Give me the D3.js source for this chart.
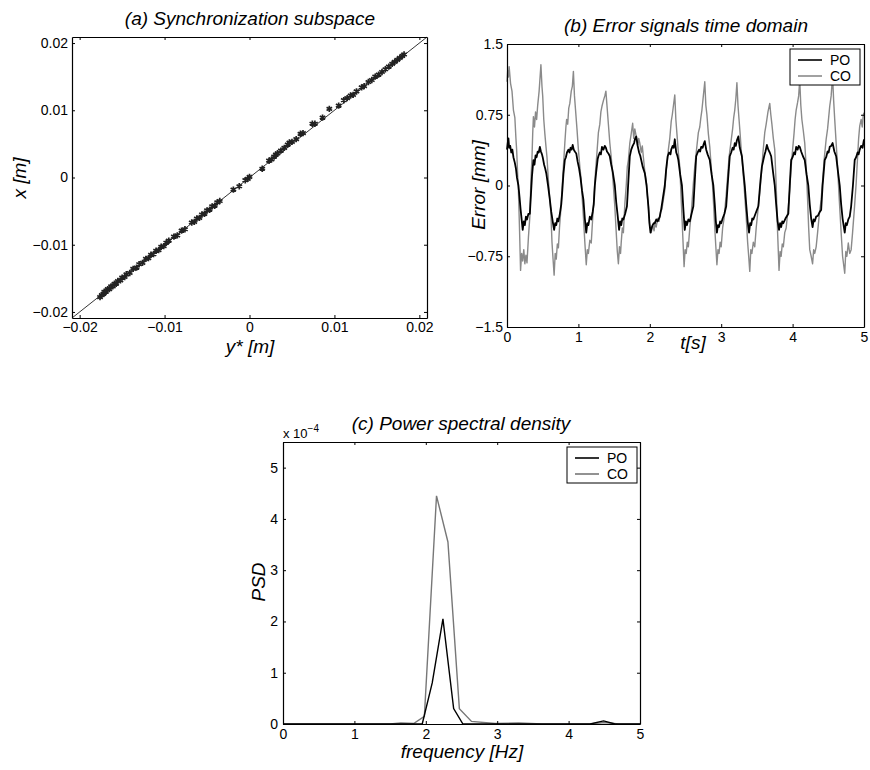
<!DOCTYPE html>
<html>
<head>
<meta charset="utf-8">
<script src="https://cdn.jsdelivr.net/npm/d3@7"></script>
<style>
body { margin:0; background:#fff; }
text { font-family: "Liberation Sans", Arial, Helvetica, sans-serif; fill:#000; }
</style>
</head>
<body>
<div id="chart"></div>
<script>
// (a) synchronization subspace: y* [m] vs x [m]
var syncYstar = [
-0.0176,-0.0174,-0.0172,-0.0171,-0.0169,-0.0167,-0.0165,-0.0163,-0.0161,-0.0159,-0.0157,-0.0155,-0.0152,-0.0150,-0.0147,-0.0145,
-0.0141,-0.0137,-0.0133,-0.0130,-0.0126,
-0.0122,-0.0119,-0.0116,-0.0113,-0.0110,-0.0107,-0.0104,-0.0101,-0.0098,-0.0095,
-0.0089,-0.0085,-0.0080,-0.0076,
-0.0068,-0.0065,-0.0062,-0.0059,-0.0056,-0.0053,-0.0050,-0.0047,-0.0044,-0.0041,-0.0038,-0.0035,
-0.0019,-0.0012,-0.0005,-0.0002,0.0000,
0.0015,0.0023,0.0026,0.0029,0.0031,0.0033,0.0037,0.0041,0.0045,0.0047,0.0050,0.0055,0.0060,0.0063,0.0074,0.0077,0.0086,0.0094,
0.0105,0.0111,0.0115,0.0119,0.0122,0.0126,0.0132,0.0135,0.0140,0.0144,0.0148,0.0152,0.0156,0.0160,0.0164,0.0168,0.0171,0.0174,0.0177,0.0180,0.0182
];
var syncX = [
-0.0178,-0.0175,-0.0173,-0.0170,-0.0170,-0.0166,-0.0166,-0.0162,-0.0162,-0.0158,-0.0158,-0.0154,-0.0153,-0.0149,-0.0148,-0.0144,
-0.0142,-0.0136,-0.0134,-0.0129,-0.0127,
-0.0121,-0.0120,-0.0115,-0.0114,-0.0109,-0.0108,-0.0103,-0.0102,-0.0097,-0.0094,
-0.0088,-0.0086,-0.0079,-0.0077,
-0.0067,-0.0066,-0.0061,-0.0060,-0.0055,-0.0054,-0.0049,-0.0048,-0.0043,-0.0042,-0.0037,-0.0035,
-0.0018,-0.0013,-0.0004,-0.0002,0.0001,
0.0013,0.0025,0.0027,0.0031,0.0034,0.0036,0.0040,0.0044,0.0049,0.0052,0.0053,0.0057,0.0065,0.0066,0.0080,0.0080,0.0089,0.0102,
0.0107,0.0115,0.0118,0.0122,0.0123,0.0128,0.0134,0.0136,0.0142,0.0145,0.0150,0.0153,0.0157,0.0161,0.0165,0.0169,0.0172,0.0175,0.0178,0.0181,0.0183
];
var syncTicks = [-0.02,-0.01,0,0.01,0.02];

// (b) error signals [t (s), error (mm)]
var poError = [[0,0.38],[0.01,0.45],[0.02,0.5],[0.03,0.4],[0.045,0.42],[0.06,0.35],[0.075,0.38],[0.09,0.3],[0.11,0.24],[0.125,0.18],[0.14,0.08],[0.16,0.0],[0.175,-0.12],[0.19,-0.25],[0.205,-0.36],[0.22,-0.47],[0.235,-0.38],[0.25,-0.42],[0.265,-0.33],[0.28,-0.36],[0.3,-0.3],[0.32,-0.3],[0.335,-0.1],[0.35,0.1],[0.37,0.27],[0.385,0.22],[0.4,0.32],[0.415,0.3],[0.43,0.36],[0.445,0.35],[0.46,0.41],[0.475,0.36],[0.49,0.33],[0.5,0.3],[0.52,0.22],[0.535,0.18],[0.55,0.13],[0.575,0.0],[0.6,-0.15],[0.62,-0.28],[0.64,-0.38],[0.66,-0.47],[0.675,-0.4],[0.69,-0.42],[0.705,-0.35],[0.72,-0.38],[0.74,-0.3],[0.76,-0.2],[0.775,-0.05],[0.79,0.12],[0.81,0.27],[0.825,0.3],[0.84,0.35],[0.86,0.38],[0.875,0.35],[0.89,0.4],[0.905,0.38],[0.92,0.43],[0.935,0.38],[0.95,0.36],[0.97,0.34],[0.99,0.25],[1.01,0.18],[1.03,0.08],[1.05,-0.05],[1.07,-0.15],[1.09,-0.35],[1.11,-0.5],[1.125,-0.4],[1.14,-0.42],[1.16,-0.33],[1.18,-0.36],[1.2,-0.28],[1.215,-0.2],[1.23,0.0],[1.25,0.15],[1.27,0.28],[1.28,0.31],[1.3,0.35],[1.315,0.33],[1.33,0.41],[1.35,0.38],[1.37,0.42],[1.385,0.4],[1.4,0.36],[1.42,0.34],[1.44,0.31],[1.46,0.22],[1.48,0.15],[1.51,0.0],[1.53,-0.18],[1.55,-0.32],[1.57,-0.47],[1.585,-0.38],[1.6,-0.42],[1.615,-0.35],[1.63,-0.36],[1.655,-0.3],[1.68,-0.22],[1.7,0.05],[1.72,0.31],[1.74,0.38],[1.76,0.42],[1.78,0.45],[1.795,0.5],[1.81,0.52],[1.83,0.42],[1.85,0.35],[1.865,0.32],[1.88,0.27],[1.9,0.2],[1.93,0.13],[1.955,0.0],[1.98,-0.22],[1.995,-0.4],[2.01,-0.5],[2.025,-0.45],[2.04,-0.42],[2.055,-0.4],[2.07,-0.4],[2.09,-0.36],[2.11,-0.38],[2.14,-0.33],[2.16,-0.25],[2.18,-0.15],[2.21,0.0],[2.23,0.18],[2.25,0.31],[2.27,0.35],[2.29,0.33],[2.3,0.38],[2.32,0.42],[2.335,0.4],[2.35,0.49],[2.37,0.35],[2.385,0.32],[2.4,0.27],[2.425,0.12],[2.45,0.0],[2.47,-0.25],[2.49,-0.47],[2.505,-0.38],[2.52,-0.42],[2.54,-0.36],[2.56,-0.38],[2.585,-0.3],[2.61,-0.22],[2.63,0.05],[2.65,0.31],[2.67,0.35],[2.69,0.38],[2.705,0.36],[2.72,0.41],[2.74,0.4],[2.755,0.44],[2.77,0.47],[2.79,0.38],[2.81,0.33],[2.84,0.27],[2.865,0.12],[2.89,0.0],[2.91,-0.2],[2.925,-0.38],[2.94,-0.5],[2.955,-0.42],[2.97,-0.44],[2.985,-0.38],[3.0,-0.4],[3.02,-0.35],[3.045,-0.3],[3.07,-0.22],[3.09,0.0],[3.12,0.31],[3.14,0.35],[3.16,0.4],[3.175,0.38],[3.19,0.45],[3.205,0.42],[3.22,0.48],[3.24,0.52],[3.26,0.4],[3.29,0.31],[3.31,0.15],[3.33,0.0],[3.35,-0.2],[3.37,-0.38],[3.39,-0.5],[3.405,-0.4],[3.42,-0.42],[3.435,-0.35],[3.45,-0.36],[3.48,-0.3],[3.52,-0.22],[3.55,0.05],[3.57,0.2],[3.59,0.27],[3.605,0.32],[3.62,0.36],[3.64,0.43],[3.66,0.38],[3.68,0.35],[3.7,0.31],[3.725,0.15],[3.75,0.0],[3.77,-0.2],[3.79,-0.38],[3.81,-0.47],[3.825,-0.4],[3.84,-0.44],[3.855,-0.38],[3.87,-0.4],[3.9,-0.35],[3.94,-0.3],[3.96,0.0],[3.98,0.27],[4.0,0.3],[4.02,0.35],[4.035,0.33],[4.05,0.41],[4.07,0.38],[4.085,0.42],[4.1,0.41],[4.12,0.36],[4.145,0.31],[4.17,0.27],[4.195,0.12],[4.22,0.0],[4.24,-0.2],[4.26,-0.35],[4.28,-0.44],[4.295,-0.36],[4.31,-0.38],[4.33,-0.33],[4.355,-0.32],[4.38,-0.28],[4.4,-0.26],[4.42,0.0],[4.45,0.27],[4.47,0.3],[4.49,0.36],[4.505,0.35],[4.52,0.41],[4.54,0.42],[4.56,0.45],[4.585,0.36],[4.61,0.31],[4.635,0.15],[4.66,0.0],[4.68,-0.2],[4.7,-0.35],[4.73,-0.5],[4.745,-0.4],[4.76,-0.42],[4.78,-0.36],[4.8,-0.33],[4.82,-0.22],[4.845,0.0],[4.87,0.27],[4.89,0.3],[4.91,0.35],[4.925,0.33],[4.94,0.38],[4.96,0.42],[4.98,0.4],[5.0,0.49]];
var coError = [[0,1.10],[0.01,1.22],[0.02,1.15],[0.03,1.26],[0.05,1.08],[0.07,1.0],[0.09,0.8],[0.11,0.72],[0.125,0.5],[0.135,0.38],[0.15,0.1],[0.16,-0.05],[0.175,-0.45],[0.19,-0.9],[0.205,-0.72],[0.22,-0.8],[0.235,-0.68],[0.25,-0.83],[0.265,-0.74],[0.28,-0.82],[0.3,-0.55],[0.32,-0.33],[0.335,0.05],[0.35,0.3],[0.36,0.55],[0.37,0.73],[0.385,0.62],[0.4,0.78],[0.415,0.7],[0.43,0.85],[0.45,1.0],[0.475,1.28],[0.49,1.05],[0.5,0.95],[0.515,0.7],[0.53,0.55],[0.545,0.42],[0.56,0.3],[0.58,0.05],[0.6,-0.15],[0.615,-0.3],[0.63,-0.6],[0.645,-0.78],[0.66,-0.95],[0.675,-0.72],[0.69,-0.78],[0.705,-0.62],[0.72,-0.66],[0.735,-0.45],[0.75,-0.3],[0.77,-0.05],[0.79,0.2],[0.81,0.45],[0.825,0.62],[0.835,0.7],[0.85,0.65],[0.865,0.82],[0.88,0.87],[0.9,1.0],[0.915,1.05],[0.93,1.21],[0.945,0.95],[0.96,0.8],[0.98,0.6],[1.0,0.38],[1.02,0.2],[1.04,0.05],[1.055,-0.15],[1.07,-0.33],[1.09,-0.6],[1.11,-0.84],[1.125,-0.68],[1.14,-0.72],[1.16,-0.58],[1.18,-0.61],[1.2,-0.35],[1.22,-0.1],[1.24,0.15],[1.26,0.35],[1.28,0.56],[1.3,0.65],[1.315,0.78],[1.33,0.84],[1.35,0.9],[1.37,0.95],[1.385,1.0],[1.4,0.85],[1.42,0.65],[1.44,0.45],[1.46,0.3],[1.48,0.1],[1.51,-0.22],[1.53,-0.5],[1.545,-0.7],[1.56,-0.83],[1.575,-0.65],[1.59,-0.72],[1.6,-0.6],[1.615,-0.45],[1.63,-0.5],[1.65,-0.2],[1.67,0.0],[1.685,0.2],[1.7,0.27],[1.72,0.45],[1.74,0.55],[1.76,0.66],[1.775,0.5],[1.79,0.6],[1.81,0.52],[1.83,0.42],[1.845,0.5],[1.86,0.45],[1.88,0.35],[1.895,0.42],[1.91,0.3],[1.93,0.15],[1.95,0.05],[1.965,-0.1],[1.98,-0.22],[2.0,-0.42],[2.02,-0.5],[2.04,-0.42],[2.06,-0.48],[2.075,-0.38],[2.09,-0.44],[2.11,-0.35],[2.13,-0.38],[2.15,-0.28],[2.17,-0.25],[2.19,-0.15],[2.21,-0.05],[2.23,0.15],[2.245,0.25],[2.26,0.38],[2.28,0.5],[2.3,0.68],[2.315,0.75],[2.33,0.84],[2.35,0.96],[2.365,0.7],[2.38,0.55],[2.4,0.35],[2.42,0.2],[2.44,-0.15],[2.46,-0.5],[2.48,-0.86],[2.495,-0.68],[2.51,-0.72],[2.525,-0.6],[2.54,-0.65],[2.56,-0.45],[2.58,-0.3],[2.61,0.02],[2.63,0.2],[2.65,0.35],[2.68,0.56],[2.7,0.62],[2.715,0.72],[2.73,0.8],[2.75,0.95],[2.77,1.1],[2.785,0.85],[2.8,0.75],[2.82,0.55],[2.84,0.41],[2.86,0.2],[2.875,0.05],[2.89,-0.15],[2.91,-0.45],[2.925,-0.65],[2.94,-0.84],[2.955,-0.68],[2.97,-0.72],[2.985,-0.6],[3.0,-0.65],[3.02,-0.45],[3.04,-0.35],[3.07,-0.1],[3.09,0.1],[3.11,0.3],[3.14,0.48],[3.16,0.6],[3.175,0.72],[3.19,0.8],[3.205,0.92],[3.22,1.09],[3.235,0.85],[3.25,0.7],[3.265,0.55],[3.28,0.38],[3.3,0.2],[3.32,0.0],[3.35,-0.33],[3.37,-0.6],[3.385,-0.75],[3.4,-0.91],[3.415,-0.68],[3.43,-0.72],[3.45,-0.6],[3.47,-0.65],[3.49,-0.45],[3.51,-0.3],[3.54,-0.08],[3.56,0.1],[3.585,0.35],[3.61,0.56],[3.63,0.65],[3.655,0.78],[3.68,0.87],[3.695,0.75],[3.71,0.65],[3.73,0.5],[3.75,0.38],[3.77,0.0],[3.79,-0.5],[3.81,-0.9],[3.825,-0.7],[3.84,-0.75],[3.855,-0.62],[3.87,-0.65],[3.89,-0.5],[3.91,-0.45],[3.94,-0.22],[3.96,-0.05],[3.98,0.2],[4.0,0.38],[4.02,0.55],[4.035,0.7],[4.05,0.8],[4.07,0.88],[4.085,0.95],[4.1,1.12],[4.115,0.85],[4.13,0.7],[4.15,0.58],[4.17,0.45],[4.19,0.2],[4.21,-0.15],[4.225,-0.45],[4.24,-0.68],[4.26,-0.75],[4.28,-0.83],[4.295,-0.68],[4.31,-0.72],[4.33,-0.65],[4.35,-0.5],[4.375,-0.3],[4.4,-0.15],[4.42,0.05],[4.445,0.3],[4.47,0.49],[4.49,0.6],[4.505,0.72],[4.52,0.84],[4.54,0.95],[4.56,1.16],[4.575,0.9],[4.59,0.7],[4.61,0.45],[4.63,0.2],[4.65,-0.1],[4.665,-0.3],[4.68,-0.5],[4.7,-0.75],[4.73,-0.93],[4.745,-0.7],[4.76,-0.75],[4.78,-0.61],[4.8,-0.72],[4.82,-0.68],[4.84,-0.5],[4.865,-0.25],[4.89,0.02],[4.91,0.3],[4.925,0.5],[4.94,0.63],[4.96,0.7],[4.975,0.62],[4.99,0.75],[5.0,0.77]];
var errorTicks = [-1.5,-0.75,0,0.75,1.5];
var timeTicks = [0,1,2,3,4,5];

// (c) power spectral density [f (Hz), PSD]
var poPSD = [[0,0],[1.95,0],[2.09,0.8e-4],[2.24,2.05e-4],[2.39,0.3e-4],[2.52,0],[4.3,0],[4.49,0.06e-4],[4.65,0],[5,0]];
var coPSD = [[0,0],[1.5,0],[1.65,0.02e-4],[1.83,0.01e-4],[1.98,0.15e-4],[2.15,4.45e-4],[2.31,3.55e-4],[2.47,0.3e-4],[2.64,0.05e-4],[2.97,0.01e-4],[3.3,0.02e-4],[3.63,0],[4.3,0],[4.5,0.03e-4],[4.7,0],[5,0]];
var psdTicks = [0,1e-4,2e-4,3e-4,4e-4,5e-4];
var freqTicks = [0,1,2,3,4,5];

var seriesNames = ["PO","CO"];

var svg = d3.select("#chart")
  .append("svg")
    .attr("width",870)
    .attr("height",770);

function minusFmt(v){ return (v<0 ? "\u2212" : "") + Math.abs(v); }

// MATLAB-style box with inward ticks on all four sides
function drawBox(x, y, xt, yt, xf, yf, padX, padY){
  var g = svg.append("g");
  g.append("g")
    .attr("transform","translate(0,"+y.range()[0]+")")
    .call(d3.axisBottom(x).tickValues(xt).tickSize(-3).tickSizeOuter(0).tickPadding(padX).tickFormat(xf));
  g.append("g")
    .attr("transform","translate(0,"+y.range()[1]+")")
    .call(d3.axisTop(x).tickValues(xt).tickSize(-3).tickSizeOuter(0).tickFormat(""));
  g.append("g")
    .attr("transform","translate("+x.range()[0]+",0)")
    .call(d3.axisLeft(y).tickValues(yt).tickSize(-3).tickSizeOuter(0).tickPadding(padY).tickFormat(yf));
  g.append("g")
    .attr("transform","translate("+x.range()[1]+",0)")
    .call(d3.axisRight(y).tickValues(yt).tickSize(-3).tickSizeOuter(0).tickFormat(""));
  g.selectAll(".domain").attr("stroke","#000").attr("stroke-width",1.2);
  g.selectAll(".tick line").attr("stroke","#000");
  g.selectAll(".tick text")
    .attr("fill","#000")
    .style("font-family","'Liberation Sans', Arial, sans-serif")
    .style("font-size","14px");
  return g;
}

function label(x, y, txt, rotate){
  var t = svg.append("text")
    .attr("text-anchor","middle")
    .style("font-size","19px")
    .style("font-style","italic")
    .text(txt);
  if (rotate) t.attr("transform","translate("+x+","+y+") rotate(-90)");
  else t.attr("x",x).attr("y",y);
  return t;
}

function legend(x0, y0, colors){
  svg.append("rect")
    .attr("x",x0).attr("y",y0)
    .attr("width",70).attr("height",36)
    .attr("fill","#fff")
    .attr("stroke","#000")
    .attr("stroke-width",1);
  seriesNames.forEach(function(n,i){
    svg.append("line")
      .attr("x1",x0+8).attr("x2",x0+32)
      .attr("y1",y0+11+i*16).attr("y2",y0+11+i*16)
      .attr("stroke",colors[i])
      .attr("stroke-width",1.6);
    svg.append("text")
      .attr("x",x0+40).attr("y",y0+16+i*16)
      .style("font-size","14px")
      .text(n);
  });
}

// ---- (a)
var xA = d3.scaleLinear().domain([-0.0209,0.0209]).range([72,427]);
var yA = d3.scaleLinear().domain([-0.0209,0.0209]).range([318,37]);

svg.append("line")
  .attr("x1",xA(-0.0209)).attr("y1",yA(-0.0209))
  .attr("x2",xA(0.0209)).attr("y2",yA(0.0209))
  .attr("stroke","#000")
  .attr("stroke-width",0.8);

var star = d3.symbol().type(d3.symbolAsterisk || d3.symbolCross).size(28);
svg.append("g").selectAll("path")
  .data(d3.zip(syncYstar, syncX))
  .join("path")
    .attr("transform",function(d){ return "translate("+xA(d[0])+","+yA(d[1])+")"; })
    .attr("d",star)
    .attr("fill","#222")
    .attr("stroke","#222")
    .attr("stroke-width",1.7);

drawBox(xA, yA, syncTicks, syncTicks, minusFmt, minusFmt, 4, 4);
label(250, 353, "y* [m]");
label(250, 25, "(a) Synchronization subspace");
label(26, 178, "x [m]", true);

// ---- (b)
var xB = d3.scaleLinear().domain([0,5]).range([507,864]);
var yB = d3.scaleLinear().domain([-1.5,1.5]).range([327,44]);
var lineB = d3.line().x(function(d){ return xB(d[0]); }).y(function(d){ return yB(d[1]); });

svg.append("path")
  .datum(coError)
  .attr("d",lineB)
  .attr("fill","none")
  .attr("stroke","#8a8a8a")
  .attr("stroke-width",1.4)
  .attr("stroke-linejoin","round");
svg.append("path")
  .datum(poError)
  .attr("d",lineB)
  .attr("fill","none")
  .attr("stroke","#000")
  .attr("stroke-width",1.8)
  .attr("stroke-linejoin","round");

drawBox(xB, yB, timeTicks, errorTicks, minusFmt, minusFmt, 5, 4);
legend(790, 49, ["#000","#8a8a8a"]);
label(686, 32, "(b) Error signals time domain");
label(693, 349, "t[s]");
label(485, 185, "Error [mm]", true);

// ---- (c)
var xC = d3.scaleLinear().domain([0,5]).range([283,640]);
var yC = d3.scaleLinear().domain([0,5.5e-4]).range([724,442]);
var lineC = d3.line().x(function(d){ return xC(d[0]); }).y(function(d){ return yC(d[1]); });

svg.append("path")
  .datum(coPSD)
  .attr("d",lineC)
  .attr("fill","none")
  .attr("stroke","#777")
  .attr("stroke-width",1.4);
svg.append("path")
  .datum(poPSD)
  .attr("d",lineC)
  .attr("fill","none")
  .attr("stroke","#000")
  .attr("stroke-width",1.4);

drawBox(xC, yC, freqTicks, psdTicks, function(d){ return d; }, function(d){ return Math.round(d/1e-4); }, 5, 5);
legend(567, 447, ["#000","#777"]);
label(461, 430, "(c) Power spectral density");
label(462, 758, "frequency [Hz]");
label(265, 582, "PSD", true);

var mult = svg.append("text")
  .attr("x",283).attr("y",438)
  .style("font-size","13px");
mult.append("tspan").text("x 10");
mult.append("tspan").attr("dy",-6).style("font-size","10px").text("\u22124");
</script>
</body>
</html>
